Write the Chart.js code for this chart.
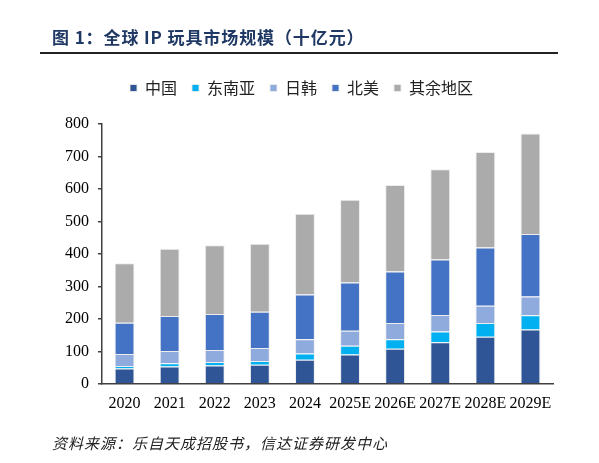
<!DOCTYPE html>
<html>
<head>
<meta charset="utf-8">
<script src="https://cdn.jsdelivr.net/npm/chart.js@4.4.1/dist/chart.umd.min.js"></script>
<style>
  body { margin: 0; background: #fff; }
  #wrap { position: relative; width: 599px; height: 463px; }
  #grafico { position: absolute; left: 0; top: 0; }
  #titulo {
    position: absolute; left: 52px; top: 24px;
    font: bold 17px "Noto Sans CJK SC", sans-serif; color: #1F3864;
    letter-spacing: 0.9px; white-space: nowrap;
  }
  #linea { position: absolute; left: 40px; top: 52px; width: 518px; height: 2px; background: #222; }
  #fuente {
    position: absolute; left: 52px; top: 432px;
    font: italic 15px "Noto Sans CJK SC", sans-serif; color: #222;
    letter-spacing: 1px; white-space: nowrap;
  }
</style>
</head>
<body>
<div id="wrap">
  <canvas id="grafico" width="599" height="463"></canvas>
  <div id="titulo">图 1：全球 IP 玩具市场规模（十亿元）</div>
  <div id="linea"></div>
  <div id="fuente">资料来源：乐自天成招股书，信达证券研发中心</div>
</div>
<script>
const years = ['2020', '2021', '2022', '2023', '2024', '2025E', '2026E', '2027E', '2028E', '2029E'];
const china = [47, 53, 56, 59, 74, 90, 108, 128, 145, 167];
const seAsia = [8, 10, 11, 11, 19, 27, 29, 33, 42, 44];
const japanKorea = [37, 38, 37, 40, 44, 46, 50, 51, 53, 58];
const northAmerica = [96, 108, 111, 112, 138, 149, 159, 171, 180, 192];
const others = [183, 207, 212, 209, 249, 255, 266, 278, 294, 310];
const yTicks = [0, 100, 200, 300, 400, 500, 600, 700, 800];

const serie = (label, data, color) => ({
  label: label,
  data: data,
  backgroundColor: color,
  borderColor: 'rgba(235,235,235,0.9)',
  borderWidth: 1,
  barPercentage: 0.44,
  categoryPercentage: 1
});

// deja un hueco entre la leyenda y el área del gráfico
const legendGap = {
  id: 'legendGap',
  beforeInit(chart) {
    const fitOrig = chart.legend.fit;
    chart.legend.fit = function () {
      fitOrig.bind(chart.legend)();
      this.height += 18;
    };
  }
};

new Chart(document.getElementById('grafico'), {
  type: 'bar',
  data: {
    labels: years,
    datasets: [
      serie('中国', china, '#2F5597'),
      serie('东南亚', seAsia, '#00B0F0'),
      serie('日韩', japanKorea, '#8FAADC'),
      serie('北美', northAmerica, '#4472C4'),
      serie('其余地区', others, '#ABABAB')
    ]
  },
  plugins: [legendGap],
  options: {
    responsive: false,
    animation: false,
    devicePixelRatio: 1,
    layout: { padding: { top: 65, right: 46, bottom: 40, left: 50 } },
    plugins: {
      legend: {
        position: 'top',
        labels: {
          boxWidth: 7,
          boxHeight: 7,
          padding: 15,
          color: '#222',
          font: { family: '"Noto Sans CJK SC"', size: 16 }
        }
      },
      tooltip: { enabled: false }
    },
    scales: {
      x: {
        stacked: true,
        grid: { display: true, drawOnChartArea: false, drawTicks: false },
        border: { display: true, color: '#404040', width: 1.5 },
        ticks: {
          color: '#000',
          padding: 10,
          maxRotation: 0,
          autoSkip: false,
          font: { family: '"Liberation Serif"', size: 16 }
        }
      },
      y: {
        stacked: true,
        min: 0,
        max: 800,
        afterFit(scale) { scale.width = 52; },
        afterBuildTicks(scale) { scale.ticks = yTicks.map(v => ({ value: v })); },
        grid: { display: true, drawOnChartArea: false, drawTicks: true, tickLength: 4, color: '#404040', lineWidth: 1.5 },
        border: { display: true, color: '#404040', width: 1.5 },
        ticks: {
          color: '#000',
          padding: 9,
          font: { family: '"Liberation Serif"', size: 16 }
        }
      }
    }
  }
});
</script>
</body>
</html>
